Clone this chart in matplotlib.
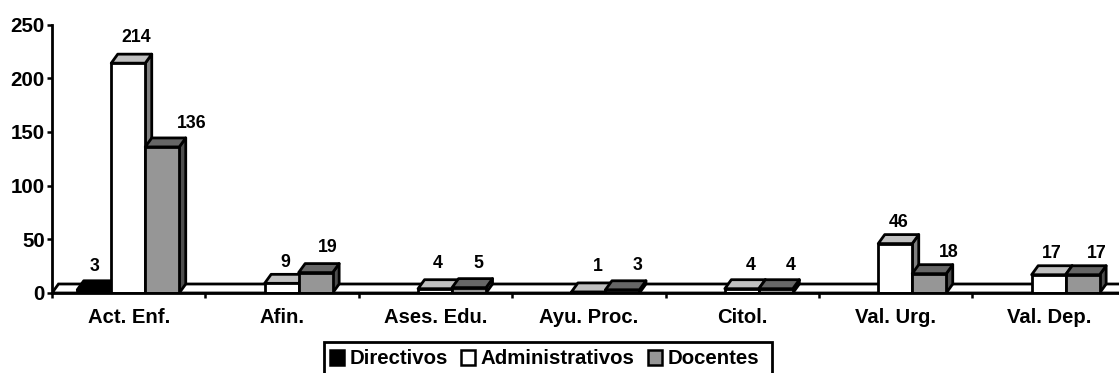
import numpy as np
import matplotlib
matplotlib.use("Agg")
import matplotlib.pyplot as plt
from matplotlib.patches import Patch, Rectangle

# Data
categories = ["Act. Enf.", "Afin.", "Ases. Edu.", "Ayu. Proc.", "Citol.", "Val. Urg.", "Val. Dep."]
directivos = [3, 0, 0, 0, 0, 0, 0]
administrativos = [214, 9, 4, 1, 4, 46, 17]
docentes = [136, 19, 5, 3, 4, 18, 17]

# label nudges in pixels, these were placed by hand in the original
dir_dx = [0, 0, 0, 0, 0, 0, 0]
dir_dy = [23, 0, 0, 0, 0, 0, 0]
adm_dx = [8, 4, 3, 9, 9, 3, 3]
adm_dy = [26, 21, 25, 25, 23, 21, 21]
doc_dx = [29, 12, 9, 15, 15, 20, 14]
doc_dy = [23, 25, 24, 24, 23, 21, 21]

plt.rcParams["font.family"] = ["Liberation Sans", "DejaVu Sans"]
plt.rcParams["font.weight"] = "bold"

W, H = 1119, 373
fig = plt.figure(figsize=(W / 100, H / 100), dpi=100)
left, bottom, top = 52, 293, 24.5
ax = fig.add_axes([left / W, (H - bottom) / H, (W - left) / W, (bottom - top) / H])

step = 153.4
ax.set_xlim(0, (W - left) / step)
ax.set_ylim(0, 250)

bar_w = 34 / step
depth_x = 6.5 / step
depth_y = 9 / ((bottom - top) / 250)
lw = 2

# floor
ax.fill([0, depth_x, 8, 8], [0, depth_y, depth_y, 0], facecolor="white", edgecolor="black", lw=lw, zorder=1)


def bar3d(x, v, front, roof, side, order):
    x0 = x - bar_w / 2
    x1 = x + bar_w / 2
    ax.fill([x1, x1 + depth_x, x1 + depth_x, x1], [0, depth_y, v + depth_y, v],
            facecolor=side, edgecolor="black", lw=lw, joinstyle="round", zorder=order)
    ax.fill([x0, x0 + depth_x, x1 + depth_x, x1], [v, v + depth_y, v + depth_y, v],
            facecolor=roof, edgecolor="black", lw=lw, joinstyle="round", zorder=order)
    ax.bar(x, v, bar_w, color=front, edgecolor="black", lw=lw, zorder=order + 0.1)


series = [
    (directivos, "black", "black", "black", -bar_w, dir_dx, dir_dy),
    (administrativos, "white", "#c0c0c0", "#808080", 0, adm_dx, adm_dy),
    (docentes, "#969696", "#666666", "#4d4d4d", bar_w, doc_dx, doc_dy),
]

for n, (vals, front, roof, side, off, dxs, dys) in enumerate(series):
    for i, v in enumerate(vals):
        if v == 0:
            continue
        x = i + 0.497 + off
        bar3d(x, v, front, roof, side, 2 + n + i * 3)
        ax.annotate(str(v), (x, v), xytext=(dxs[i], dys[i]), textcoords="offset pixels",
                    ha="center", va="center", fontsize=12.8, fontweight="bold", zorder=50)

# axes
for s in ["top", "right"]:
    ax.spines[s].set_visible(False)
for s in ["left", "bottom"]:
    ax.spines[s].set_linewidth(2)
    ax.spines[s].set_zorder(40)
ax.patch.set_alpha(0)

ax.set_yticks(np.arange(0, 251, 50))
ax.set_xticks(np.arange(0, 7))
ax.set_xticks(np.arange(7) + 0.5, minor=True)
ax.set_xticklabels([])
ax.set_xticklabels(categories, minor=True, fontsize=14.6, fontweight="bold")
ax.tick_params(axis="x", which="major", length=3.6, width=1.8)
ax.tick_params(axis="x", which="minor", length=0, pad=11)
ax.tick_params(axis="y", length=3.6, width=1.8, labelsize=14.8, pad=1.5)

# legend box runs off the bottom of the picture
fig.add_artist(Rectangle((324 / W, -4 / H), 448 / W, (H - 342 + 4) / H, transform=fig.transFigure,
                         facecolor="white", edgecolor="black", lw=2))
handles = [
    Patch(facecolor="black", edgecolor="black", lw=1.8, label="Directivos"),
    Patch(facecolor="white", edgecolor="black", lw=1.8, label="Administrativos"),
    Patch(facecolor="#969696", edgecolor="black", lw=1.8, label="Docentes"),
]
leg = fig.legend(handles=handles, ncol=3, loc="center", bbox_to_anchor=(544.5 / W, (H - 359) / H),
                 prop={"weight": "bold", "size": 14.7}, frameon=False,
                 handlelength=0.7, handleheight=0.7, handletextpad=0.27,
                 columnspacing=0.65, borderpad=0, borderaxespad=0)

fig.savefig("out.png", dpi=100)
